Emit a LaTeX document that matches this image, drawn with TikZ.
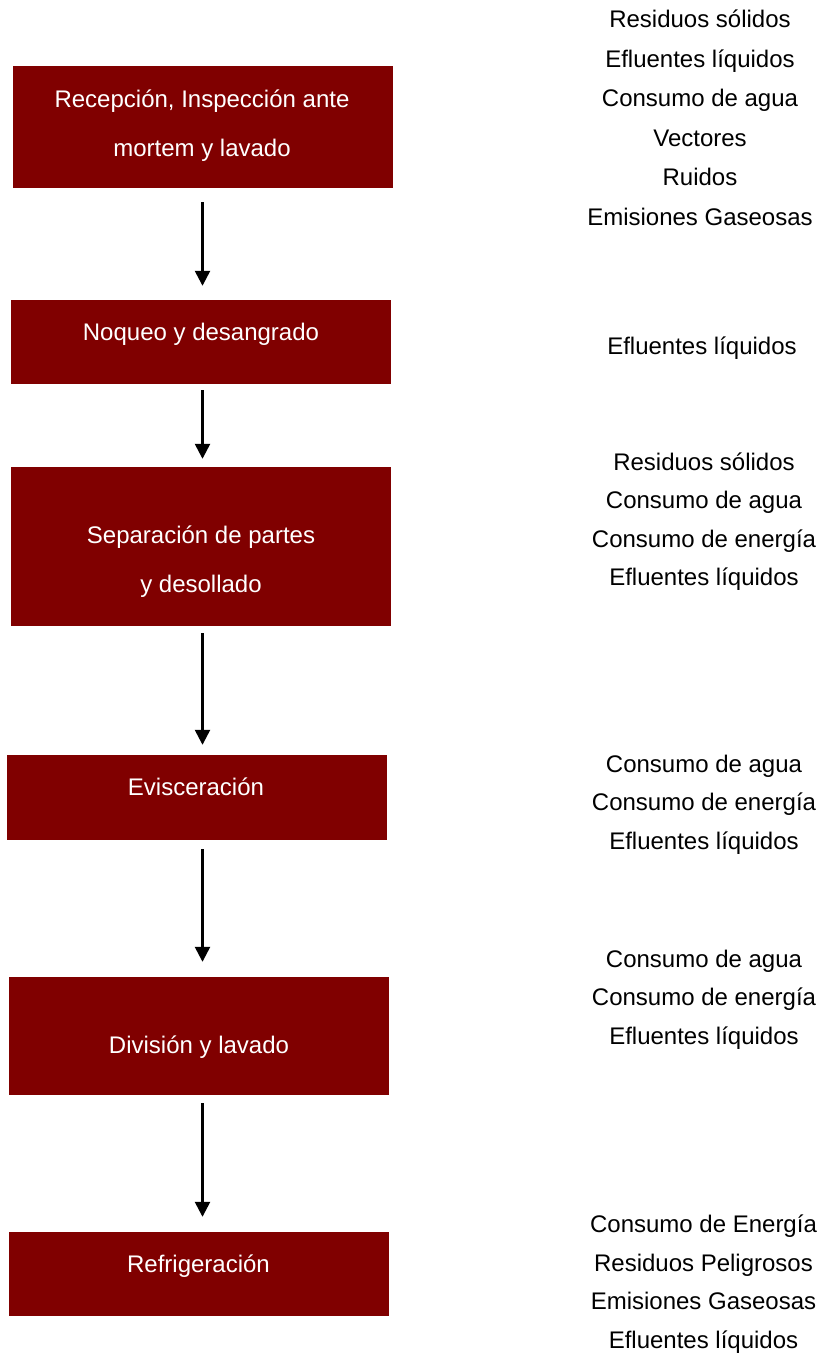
\documentclass[tikz,border=0pt]{standalone}
\usepackage{fontspec}
\setmainfont{Liberation Sans}
\usetikzlibrary{arrows.meta}
\definecolor{stageRed}{RGB}{128,0,0}

\begin{document}
\begin{tikzpicture}
[x=1pt,y=-1pt,
  stageDecorate/.style={shape=rectangle,fill=stageRed,inner sep=0pt,minimum width=380pt},
  stageText/.style={anchor=base,inner sep=0pt,text=white,align=center,font=\fontsize{24}{49}\selectfont},
  impactText/.style={anchor=base,inner sep=0pt,align=center,font=\fontsize{24}{38.5}\selectfont},
  arrowDecorate/.style={-{Triangle[width=15pt,length=15pt]},line width=2.5pt}]
\useasboundingbox (0,0) rectangle (828,1355);
%% process stages
\foreach \nodename/\x/\y/\h in {recep/203/127/122, noqueo/201/342/84,
  separ/201/546.5/159, evisc/196.5/797.5/85, divis/199/1036/118,
  refrig/199/1274/84}
{
  \node (\nodename) at (\x,\y) [stageDecorate,minimum height=\h pt] {};
}
%% texts in the stages (base = last line)
\node (recepText) at (202,156) [stageText] {Recepción, Inspección ante\\mortem y lavado};
\node (noqueoText) at (201,340) [stageText] {Noqueo y desangrado};
\node (separText) at (201,592) [stageText] {Separación de partes\\y desollado};
\node (eviscText) at (196,795) [stageText] {Evisceración};
\node (divisText) at (199,1053) [stageText] {División y lavado};
\node (refrigText) at (198.5,1272) [stageText] {Refrigeración};
%% impacts
\node (recepImpact) at (700,225) [impactText,font=\fontsize{24}{39.5}\selectfont]
  {Residuos sólidos\\Efluentes líquidos\\Consumo de agua\\Vectores\\Ruidos\\Emisiones Gaseosas};
\node (noqueoImpact) at (702,354) [impactText] {Efluentes líquidos};
\node (separImpact) at (704,585.5) [impactText]
  {Residuos sólidos\\Consumo de agua\\Consumo de energía\\Efluentes líquidos};
\node (eviscImpact) at (704,849) [impactText]
  {Consumo de agua\\Consumo de energía\\Efluentes líquidos};
\node (divisImpact) at (704,1044) [impactText]
  {Consumo de agua\\Consumo de energía\\Efluentes líquidos};
\node (refrigImpact) at (703.5,1348) [impactText]
  {Consumo de Energía\\Residuos Peligrosos\\Emisiones Gaseosas\\Efluentes líquidos};
%% arrows
\coordinate (axis) at (202.5,0);
\foreach \startnode/\endnode/\gapA/\gapB in {recep/noqueo/14/14,
  noqueo/separ/6/8, separ/evisc/7/10, evisc/divis/9/15, divis/refrig/8/15}
{
  \draw[arrowDecorate,shorten <=\gapA pt,shorten >=\gapB pt]
    (\startnode.south -| axis) -- (\endnode.north -| axis);
}
\end{tikzpicture}
\end{document}
